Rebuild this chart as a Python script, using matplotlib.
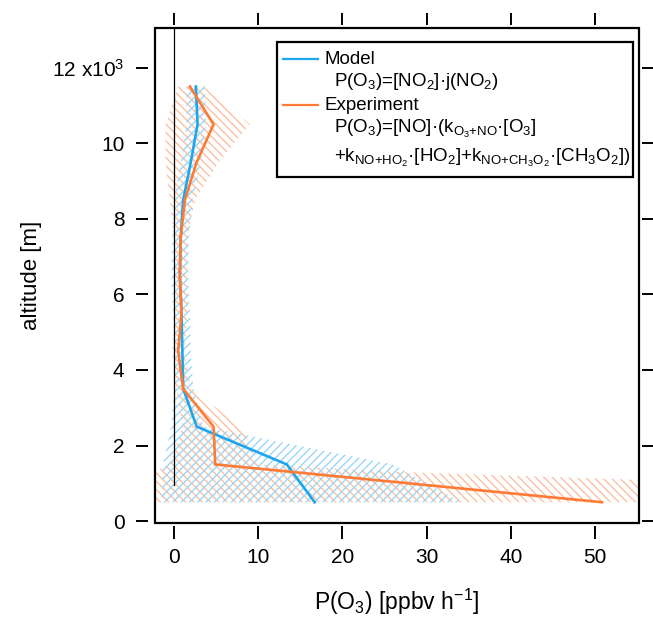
import matplotlib
matplotlib.use("Agg")
import matplotlib.pyplot as plt
from matplotlib.patches import Rectangle
from matplotlib.lines import Line2D

plt.rcParams['font.family'] = ['Liberation Sans', 'DejaVu Sans']
plt.rcParams['mathtext.fontset'] = 'custom'
plt.rcParams['mathtext.rm'] = 'Liberation Sans'
plt.rcParams['mathtext.it'] = 'Liberation Sans'
plt.rcParams['mathtext.bf'] = 'Liberation Sans'
plt.rcParams['hatch.linewidth'] = 1.0

# ---- data ----
altitude = [500, 1500, 2500, 3500, 4500, 5500, 6500, 7500, 8500, 9500, 10500, 11500]
model = [16.7, 13.4, 2.7, 1.1, 1.0, 0.9, 0.7, 0.8, 1.1, 2.0, 2.8, 2.6]
experiment = [50.8, 4.9, 4.7, 1.1, 0.5, 0.9, 0.7, 0.8, 1.3, 2.7, 4.7, 1.9]

model_lo = [-1.5, -1.3, -0.3, 0.0, 0.0, -0.1, -0.3, -0.2, 0.0, 0.8, 1.5, 1.5]
model_hi = [34.1, 26.0, 3.5, 2.3, 2.0, 1.9, 1.7, 1.8, 2.2, 3.2, 3.8, 3.7]

exp_env_alt = [500, 1300, 1500, 2500, 3500, 4500, 5500, 6500, 7500, 8500, 9500, 10500, 11500]
exp_lo = [-5.0, -2.5, -0.5, 1.0, 0.3, -0.2, 0.2, 0.0, 0.0, -0.5, -1.0, -1.0, 0.5]
exp_hi = [135.0, 27.0, 10.0, 8.0, 2.0, 1.2, 1.6, 1.5, 1.6, 2.5, 5.3, 9.0, 3.5]

zero_line_alt = [950, 13100]
zero_line_x = [0, 0]

xticks = [0, 10, 20, 30, 40, 50]
yticks = [0, 2000, 4000, 6000, 8000, 10000, 12000]
ytick_labels = ['0', '2', '4', '6', '8', '10', r'12 x10$^{3}$']

blue = '#1ba6ee'
orange = '#ff7b35'
blue_hatch = '#9ad7f7'
orange_hatch = '#fdc0a2'

fig = plt.figure(figsize=(6.53, 6.17), dpi=100)
ax = fig.add_axes([155/653, 1-523/617, (639-155)/653, (523-28)/617])

ax.fill_betweenx(exp_env_alt, exp_lo, exp_hi, facecolor='none', edgecolor=orange_hatch,
                 hatch='\\' * 4, linewidth=0)
ax.fill_betweenx(altitude, model_lo, model_hi, facecolor='none', edgecolor=blue_hatch,
                 hatch='/' * 4, linewidth=0)

ax.plot(zero_line_x, zero_line_alt, color='black', lw=0.9)
ax.plot(model, altitude, color=blue, lw=1.9, solid_joinstyle='miter')
ax.plot(experiment, altitude, color=orange, lw=1.9, solid_joinstyle='miter')

ax.set_xlim(-2.25, 55.2)
ax.set_ylim(-50, 13050)
ax.set_xticks(xticks)
ax.set_yticks(yticks)
ax.set_yticklabels(ytick_labels)

for s in ax.spines.values():
    s.set_color('none')
ax.spines['left'].set_position(('outward', 5))
ax.spines['bottom'].set_position(('outward', 2))
ax.spines['top'].set_position(('outward', 2))
ax.spines['right'].set_position(('outward', 2))
ax.add_patch(Rectangle((0, 0), 1, 1, transform=ax.transAxes, fill=False,
                       lw=1.6, edgecolor='black', clip_on=False, zorder=5))

ax.tick_params(axis='both', which='major', direction='out', length=9, width=1.4,
               labelsize=15, pad=7, top=True, right=True, colors='black')
ax.tick_params(axis='y', pad=8)

ax.set_xlabel(r'P(O$_3$) [ppbv h$^{-1}$]', fontsize=16.5, labelpad=14)
ax.set_ylabel('altitude [m]', fontsize=16, labelpad=7)

# legend box (manual)
lx0, lx1 = (277-155)/484, (633-155)/484
ly0, ly1 = 1-(177-28)/495, 1-(42-28)/495
ax.add_patch(Rectangle((lx0, ly0), lx1-lx0, ly1-ly0, transform=ax.transAxes,
                       facecolor='white', edgecolor='black', lw=1.6, zorder=6))

def ax_x(px):
    return (px-155)/484

def ax_y(py):
    return 1-(py-28)/495

fs = 13.5
ax.add_line(Line2D([ax_x(283), ax_x(318)], [ax_y(59), ax_y(59)], transform=ax.transAxes,
                   color=blue, lw=1.6, zorder=7))
ax.add_line(Line2D([ax_x(283), ax_x(318)], [ax_y(105), ax_y(105)], transform=ax.transAxes,
                   color=orange, lw=1.6, zorder=7))
kw = dict(transform=ax.transAxes, fontsize=fs, va='center', ha='left', zorder=7)
ax.text(ax_x(325), ax_y(59), 'Model', **kw)
ax.text(ax_x(334), ax_y(82), r'P(O$_3$)=[NO$_2$]·j(NO$_2$)', **kw)
ax.text(ax_x(325), ax_y(105), 'Experiment', **kw)
ax.text(ax_x(334), ax_y(129), r'P(O$_3$)=[NO]·(k$_{\mathrm{O_3{+}NO}}$·[O$_3$]', **kw)
ax.text(ax_x(334), ax_y(158),
        r'+k$_{\mathrm{NO{+}HO_2}}$·[HO$_2$]+k$_{\mathrm{NO{+}CH_3O_2}}$·[CH$_3$O$_2$])', **kw)

fig.savefig('out.png', dpi=100)
